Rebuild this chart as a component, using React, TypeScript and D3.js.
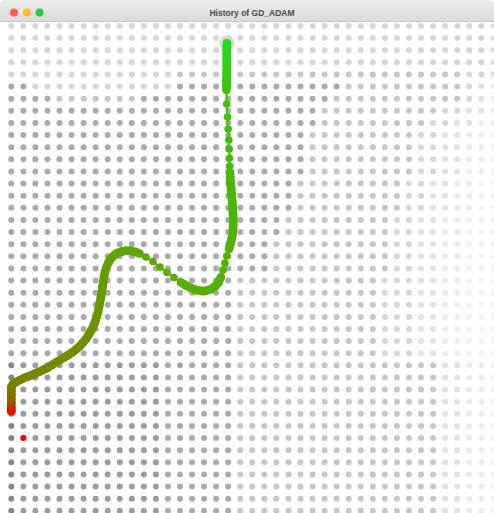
import React from "react";
import * as d3 from "d3";

// ---- Data ----
const TITLE = "History of GD_ADAM";

// grid of the loss landscape: 41 x 41 samples, level runs per row ("count:level")
const GRID_COLS = 41;
const GRID_ROWS = 41;
const levelRuns: string[] = [
  "40:4 1:5",
  "40:4 1:5",
  "40:4 1:5",
  "40:4 1:5",
  "14:4 24:3 2:4 1:5",
  "2:2 12:4 14:2 10:3 1:4 1:5 1:6",
  "4:2 7:3 16:2 11:3 1:4 1:5 1:6",
  "26:2 10:3 2:4 2:5 1:6",
  "26:2 9:3 2:4 2:5 2:6",
  "25:2 9:3 2:4 2:5 2:6 1:7",
  "25:2 9:3 2:4 2:5 2:6 1:7",
  "25:2 9:3 2:4 2:5 2:6 1:7",
  "25:2 9:3 2:4 2:5 2:6 1:7",
  "24:2 9:3 2:4 2:5 2:6 2:7",
  "24:2 9:3 2:4 2:5 2:6 2:7",
  "24:2 9:3 2:4 2:5 2:6 2:7",
  "23:2 9:3 2:4 2:5 2:6 3:7",
  "23:2 9:3 2:4 2:5 2:6 3:7",
  "22:2 10:3 2:4 2:5 2:6 3:7",
  "22:2 10:3 2:4 2:5 2:6 3:7",
  "22:2 10:3 2:4 2:5 2:6 3:7",
  "19:2 12:3 3:4 2:5 2:6 3:7",
  "19:2 12:3 3:4 2:5 2:6 3:7",
  "19:2 12:3 3:4 2:5 2:6 3:7",
  "19:2 12:3 3:4 2:5 2:6 3:7",
  "19:2 12:3 3:4 2:5 2:6 3:7",
  "19:2 12:3 3:4 2:5 2:6 3:7",
  "19:2 12:3 3:4 2:5 2:6 3:7",
  "1:0 12:1 6:2 17:3 2:5 2:6 1:7",
  "1:0 12:1 6:2 17:3 2:5 2:6 1:7",
  "1:0 12:1 6:2 17:3 2:5 2:6 1:7",
  "1:0 12:1 6:2 17:3 2:5 2:6 1:7",
  "1:0 12:1 6:2 17:3 2:5 2:6 1:7",
  "1:0 12:1 6:2 17:3 2:5 2:6 1:7",
  "1:0 12:1 6:2 17:3 2:5 2:6 1:7",
  "1:0 12:1 6:2 17:3 2:5 2:6 1:7",
  "1:0 12:1 6:2 17:3 2:5 2:6 1:7",
  "1:0 12:1 6:2 17:3 2:5 2:6 1:7",
  "1:0 12:1 6:2 17:3 2:5 2:6 1:7",
  "1:0 12:1 6:2 17:3 2:5 2:6 1:7",
  "1:0 12:1 6:2 17:3 2:5 2:6 1:7",
];
const levelGrays = ["#878787", "#9b9b9b", "#aaaaaa", "#c6c6c6", "#d6d6d6", "#e1e1e1", "#ebebeb", "#f3f3f3"];

// optimizer history (grid units)
const pathX = [
  0, 0, 0, 0, 0, 0, 0,
  0.14, 0.39, 0.72, 1.05, 1.39, 1.72, 2.05, 2.38, 2.71, 3.05, 3.38, 3.71, 4.04, 4.37, 4.71, 5.04, 5.37, 5.70,
  5.95, 6.20, 6.41, 6.61, 6.78, 6.95, 7.07, 7.20, 7.28, 7.36, 7.44, 7.51, 7.57, 7.63, 7.69, 7.78, 7.90, 8.07,
  8.27, 8.52, 8.81, 9.15, 9.52, 9.89, 10.27, 10.64,
  11.18, 11.76, 12.34, 12.92, 13.50, 14.08,
  14.50, 14.91, 15.33, 15.74, 16.16, 16.57, 16.90, 17.20,
  17.40, 17.57, 17.73, 17.88,
  18.07, 18.19, 18.29, 18.36, 18.40, 18.42, 18.42, 18.40, 18.37, 18.35, 18.32, 18.28, 18.25, 18.22,
  18.19, 18.17, 18.15, 18.13, 18.11, 18.08, 18.05, 18.00, 17.94, 17.88, 17.86,
  17.86, 17.86, 17.87, 17.87, 17.88, 17.88, 17.88, 17.88, 17.88, 17.88, 17.89, 17.90,
];
const pathY = [
  31.77, 31.44, 31.11, 30.78, 30.45, 30.12, 29.79,
  29.54, 29.37, 29.21, 29.04, 28.92, 28.80, 28.63, 28.51, 28.34, 28.18, 27.97, 27.76, 27.56, 27.35, 27.15, 26.94, 26.69, 26.40,
  26.11, 25.83, 25.50, 25.17, 24.83, 24.42, 24.01, 23.60, 23.18, 22.77, 22.36, 21.95, 21.53, 21.12, 20.71, 20.30, 19.88, 19.51,
  19.18, 18.94, 18.73, 18.61, 18.54, 18.55, 18.63, 18.77,
  19.06, 19.43, 19.88, 20.34, 20.75, 21.16,
  21.41, 21.62, 21.78, 21.86, 21.84, 21.72, 21.49, 21.16,
  20.71, 20.13, 19.55, 18.98,
  18.40, 17.99, 17.57, 17.16, 16.75, 16.34, 15.92, 15.51, 15.10, 14.69, 14.27, 13.86, 13.45, 13.12,
  12.79, 12.46, 12.05, 11.55, 10.89, 10.15, 9.41, 8.50, 7.51, 6.44, 5.28,
  4.95, 4.62, 4.29, 3.96, 3.63, 3.30, 2.97, 2.64, 2.31, 1.98, 1.65, 1.40,
];
const startPoint = [1, 34];

// color of history by progress (iteration fraction)
const progressStops = [0, 0.012, 0.03, 0.057, 0.48, 0.61, 0.78, 0.89, 1];
const progressColors = ["#ff0000", "#c03000", "#8a6600", "#7d7d00", "#5ca800", "#52b000", "#4ab600", "#3ec400", "#22dd22"];

function parseRuns(s: string): number[] {
  const out: number[] = [];
  s.split(" ").forEach((tok) => {
    const [c, l] = tok.split(":").map(Number);
    for (let i = 0; i < c; i++) out.push(l);
  });
  return out;
}

export default function App() {
  const W = 494;
  const H = 513;
  const barH = 22;
  const x = d3.scaleLinear().domain([0, GRID_COLS - 1]).range([11.3, 493.3]);
  const y = d3.scaleLinear().domain([0, GRID_ROWS - 1]).range([26, 510.8]);
  const n = pathX.length;
  const color = d3.scaleLinear<string>().domain(progressStops).range(progressColors).interpolate(d3.interpolateRgb);

  const dots: JSX.Element[] = [];
  levelRuns.forEach((row, j) => {
    parseRuns(row).forEach((lv, i) => {
      dots.push(<circle key={`g${i}-${j}`} cx={x(i)} cy={y(j)} r={3} fill={levelGrays[lv]} />);
    });
  });

  const pts = pathX.map((px, i) => ({ x: x(px), y: y(pathY[i]), c: color(i / (n - 1)) }));
  const segs: JSX.Element[] = [];
  for (let i = 1; i < n; i++) {
    const a = pts[i - 1];
    const b = pts[i];
    const d = Math.hypot(b.x - a.x, b.y - a.y);
    const w = d <= 6 ? 8.5 : 2;
    segs.push(
      <line key={`s${i}`} x1={a.x} y1={a.y} x2={b.x} y2={b.y} stroke={b.c} strokeWidth={w} strokeLinecap="round" />
    );
  }
  const last = pts[n - 1];

  return (
    <svg width={W} height={H} style={{ position: "absolute", left: 0, top: 0, background: "#fff" }}>
      <defs>
        <linearGradient id="bar" x1="0" y1="0" x2="0" y2="1">
          <stop offset="0" stopColor="#ececec" />
          <stop offset="1" stopColor="#dadada" />
        </linearGradient>
      </defs>
      <rect x={0} y={0} width={W} height={H} fill="#fff" />
      <g>{dots}</g>
      <circle cx={last.x} cy={last.y} r={7.5} fill="#d8d8d8" />
      <g>{segs}</g>
      <g>
        {pts.map((p, i) => (
          <circle key={`p${i}`} cx={p.x} cy={p.y} r={i === 0 ? 4.5 : 3.8} fill={p.c} />
        ))}
      </g>
      <circle cx={x(startPoint[0])} cy={y(startPoint[1])} r={3} fill="#ff0000" />
      <path d={`M0,${barH} V5 Q0,0 5,0 H${W - 5} Q${W},0 ${W},5 V${barH} Z`} fill="url(#bar)" />
      <line x1={0} x2={W} y1={barH - 0.5} y2={barH - 0.5} stroke="#c4c4c4" />
      <circle cx={14} cy={12.5} r={4} fill="#ff5f57" />
      <circle cx={27} cy={12.5} r={4} fill="#febc2e" />
      <circle cx={39.5} cy={12.5} r={4} fill="#28c840" />
      <text
        x={252}
        y={15.5}
        textAnchor="middle"
        fontFamily="Liberation Sans, Arial, sans-serif"
        fontWeight="bold"
        fontSize={8.5}
        fill="#4a4a4a"
      >
        {TITLE}
      </text>
    </svg>
  );
}
